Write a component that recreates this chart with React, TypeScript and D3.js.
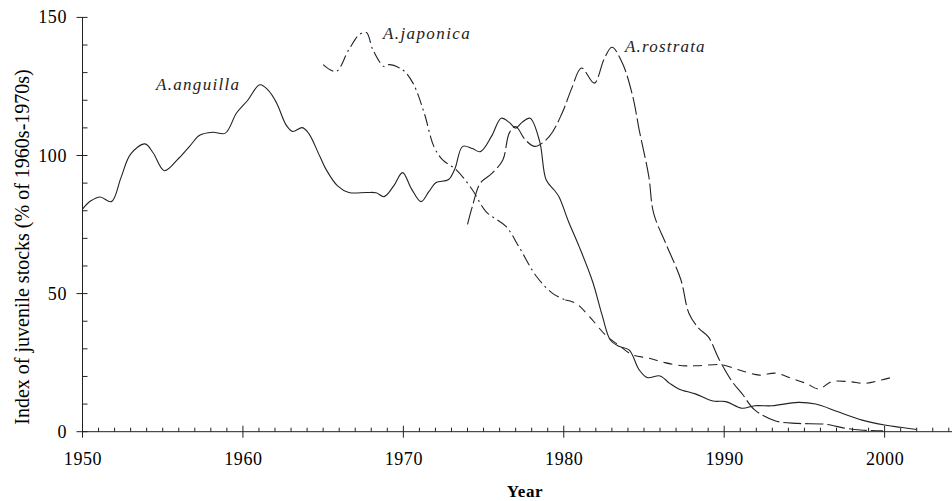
import React from 'react'
import * as d3 from 'd3'

// eel recruitment indices, % of 1960s-1970s level
const anguilla: [number, number][] = [
  [1950, 80.6], [1950.5, 83.5], [1951.1, 85], [1951.8, 83.3], [1952.4, 92], [1953.0, 100.5],
  [1953.9, 104.2], [1954.4, 101], [1955.1, 94.5], [1956.0, 99], [1956.7, 103.5], [1957.3, 107.3],
  [1958.1, 108.4], [1958.9, 108.1], [1959.6, 115.4], [1960.3, 120], [1961.05, 125.6], [1961.6, 123.5],
  [1962.1, 119], [1962.7, 111], [1963.1, 108.7], [1963.7, 110.1], [1964.1, 108], [1964.8, 99.6],
  [1965.2, 94.8], [1965.9, 89], [1966.6, 86.6], [1967.7, 86.6], [1968.3, 86.5], [1968.8, 85.1],
  [1969.4, 89], [1969.95, 93.8], [1970.5, 88], [1971.1, 83.3], [1971.6, 87], [1972.04, 90.2],
  [1972.8, 91.2], [1973.2, 95], [1973.7, 103.3], [1974.3, 102.5], [1974.8, 101.4], [1975.5, 107],
  [1976.1, 113.5], [1976.6, 112], [1977.0, 109.9], [1977.4, 112], [1977.9, 113.5], [1978.5, 105],
  [1978.9, 91.2], [1979.4, 87.5], [1979.7, 85.1], [1980.3, 76], [1980.96, 67], [1981.8, 54.3],
  [1982.4, 42], [1982.9, 33.2], [1983.4, 31], [1984.07, 29.6], [1984.7, 22.4], [1985.2, 19.6],
  [1986.0, 20.2], [1986.6, 17.5], [1987.2, 15.4], [1988.2, 13.7], [1989.3, 11.1], [1990.1, 10.9],
  [1991.1, 8.5], [1991.9, 9.4], [1993.0, 9.4], [1994.6, 10.6], [1995.7, 10], [1997.1, 7.2],
  [1998.6, 4.2], [2000.0, 2.4], [2001.0, 1.6], [2002.0, 0.8]
]

const rostrata: [number, number][] = [
  [1974.0, 75.1], [1974.3, 81.5], [1974.8, 90], [1975.5, 93.4], [1976.2, 98.4], [1976.6, 108.1],
  [1977.0, 110.5], [1977.6, 105.7], [1978.2, 103.3], [1979.1, 106.9], [1979.9, 115.4], [1980.5, 124.4],
  [1981.1, 131.7], [1981.9, 126.2], [1982.5, 134.7], [1983.0, 139.2], [1983.65, 133.5], [1984.3, 121.4],
  [1984.7, 109.3], [1985.3, 92.4], [1985.6, 79.1], [1986.4, 67.6], [1987.3, 55], [1987.8, 42.9],
  [1988.4, 37.5], [1989.0, 34.4], [1989.7, 26], [1990.5, 18.1], [1991.1, 13.9], [1991.9, 7.9],
  [1993.2, 3.9], [1994.6, 3], [1996.3, 2.7], [1997.6, 1.2], [1998.5, 0.6], [1999.9, 0.3]
]

const japonica: [number, number][] = [
  [1965.0, 132.9], [1965.8, 130.4], [1966.6, 138.3], [1967.3, 144], [1967.7, 144.5], [1968.1, 138.3],
  [1968.8, 132.2], [1969.1, 132.9], [1969.96, 131], [1970.6, 126.2], [1971.3, 115.4], [1971.9, 103.3],
  [1972.45, 98.4], [1973.3, 94.8], [1974.3, 87.6], [1975.15, 79.7], [1976.4, 74.3], [1977.2, 67],
  [1978.3, 56.2], [1979.3, 50.1], [1980.1, 47.7], [1980.75, 46.5], [1981.6, 41.7], [1982.6, 35],
  [1983.4, 31.4], [1984.3, 27.8], [1985.3, 26.6], [1986.3, 25], [1987.4, 23.9], [1988.4, 23.9],
  [1989.9, 24.2], [1990.9, 22.4], [1992.2, 20.5], [1993.2, 21.2], [1994.2, 19.3], [1995.1, 17.5],
  [1995.9, 15.5], [1996.7, 18.1], [1997.8, 18.1], [1998.8, 17.5], [1999.8, 18.7], [2000.6, 19.9]
]

const xTicks = [1950, 1960, 1970, 1980, 1990, 2000]
const yTicks = [0, 50, 100, 150]

const W = 952
const H = 501
const font = '"Liberation Serif", "Times New Roman", serif'
const ink = '#222'

export default function App() {
  const x = d3.scaleLinear().domain([1950, 2004.2]).range([82.5, W])
  const y = d3.scaleLinear().domain([0, 150]).range([431.7, 17.4])

  const line = d3.line<[number, number]>()
    .x(d => x(d[0]))
    .y(d => y(d[1]))
    .curve(d3.curveCatmullRom.alpha(0.5))

  const minorX = d3.range(1950, 2005, 1).filter(v => !xTicks.includes(v))
  const minorY = d3.range(0, 151, 10).filter(v => !yTicks.includes(v))

  const japTop = japonica.filter(d => d[0] <= 1980.1)
  const japLow = japonica.filter(d => d[0] >= 1980.1)

  return (
    <svg width={W} height={H} style={{ position: 'absolute', left: 0, top: 0 }}>
      <rect width={W} height={H} fill="#fff" />

      {/* axes */}
      <line x1={x(1950)} x2={W} y1={y(0)} y2={y(0)} stroke={ink} />
      <line x1={x(1950)} x2={x(1950)} y1={y(0)} y2={y(150)} stroke={ink} />

      {minorX.map(v => (
        <line key={'mx' + v} x1={x(v)} x2={x(v)} y1={y(0)} y2={y(0) - 4} stroke={ink} />
      ))}
      {xTicks.map(v => (
        <g key={'x' + v}>
          <line x1={x(v)} x2={x(v)} y1={y(0) - 6} y2={y(0) + 6} stroke={ink} />
          <text x={x(v) + 0.5} y={465} textAnchor="middle" fontFamily={font} fontSize={18} letterSpacing={0.6} fill="#000">{v}</text>
        </g>
      ))}

      {minorY.map(v => (
        <line key={'my' + v} x1={x(1950)} x2={x(1950) + 5} y1={y(v)} y2={y(v)} stroke={ink} />
      ))}
      {yTicks.map(v => (
        <g key={'y' + v}>
          <line x1={x(1950) - 6} x2={x(1950) + 5} y1={y(v)} y2={y(v)} stroke={ink} />
          <text x={67} y={y(v) + 6} textAnchor="end" fontFamily={font} fontSize={18} letterSpacing={0.6} fill="#000">{v}</text>
        </g>
      ))}

      <text x={525} y={497} textAnchor="middle" fontFamily={font} fontSize={17} fontWeight="bold" letterSpacing={0.6} fill="#000">Year</text>
      <text transform="translate(29,247) rotate(-90)" textAnchor="middle" fontFamily={font} fontSize={20} fill="#000">
        Index of juvenile stocks (% of 1960s-1970s)
      </text>

      {/* series */}
      <path d={line(anguilla) ?? ''} fill="none" stroke={ink} strokeWidth={1.1} />
      <path d={line(rostrata) ?? ''} fill="none" stroke={ink} strokeWidth={1.1} strokeDasharray="18,4" />
      <path d={line(japTop) ?? ''} fill="none" stroke={ink} strokeWidth={1.1} strokeDasharray="12,4,2,4" />
      <path d={line(japLow) ?? ''} fill="none" stroke={ink} strokeWidth={1.1} strokeDasharray="9,6" />

      <text x={156} y={90} fontFamily={font} fontStyle="italic" fontSize={17} letterSpacing={1.3} fill="#222">A.anguilla</text>
      <text x={383} y={39} fontFamily={font} fontStyle="italic" fontSize={17} letterSpacing={1.4} fill="#222">A.japonica</text>
      <text x={625} y={52} fontFamily={font} fontStyle="italic" fontSize={17} letterSpacing={1.2} fill="#222">A.rostrata</text>
    </svg>
  )
}
